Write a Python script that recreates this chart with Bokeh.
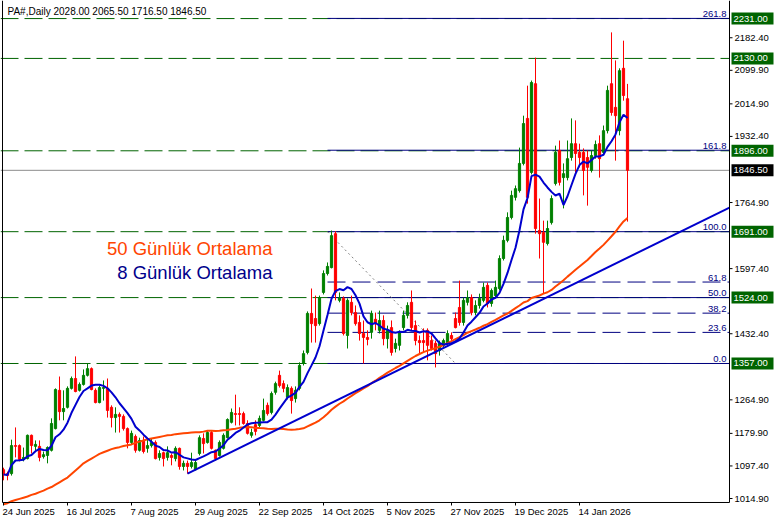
import numpy as np
import pandas as pd
from bokeh.plotting import figure
from bokeh.models import ColumnDataSource
from bokeh.core.properties import value
from bokeh.embed import file_html
from bokeh.resources import INLINE

# ---------------- data ----------------
chart_title = "PA#,Daily  2028.00 2065.50 1716.50 1846.50"

opens = [1088, 1078, 1078, 1149, 1149, 1114, 1116, 1175, 1147, 1147,
         1121, 1124, 1137, 1192, 1289, 1235, 1246, 1294, 1319, 1289,
         1304, 1327, 1344, 1289, 1258, 1294, 1294, 1246, 1220, 1228,
         1223, 1192, 1157, 1172, 1137, 1162, 1142, 1149, 1157, 1119,
         1131, 1119, 1124, 1116, 1142, 1096, 1104, 1096, 1088, 1129,
         1167, 1157, 1182, 1137, 1124, 1142, 1169, 1208, 1230, 1230,
         1230, 1205, 1175, 1202, 1200, 1213, 1251, 1233, 1284, 1327,
         1306, 1271, 1294, 1268, 1294, 1357, 1385, 1484, 1471, 1458,
         1537, 1585, 1600, 1686, 1517, 1522, 1428, 1512, 1486, 1461,
         1433, 1423, 1436, 1469, 1441, 1466, 1420, 1448, 1395, 1403,
         1448, 1479, 1512, 1453, 1415, 1415, 1441, 1415, 1408, 1390,
         1403, 1408, 1428, 1471, 1499, 1461, 1512, 1524, 1486, 1504,
         1517, 1555, 1509, 1529, 1547, 1623, 1669, 1727, 1778, 1795,
         1864, 1978, 1841, 2066, 1694, 1689, 1661, 1714, 1813, 1897,
         1828, 1828, 1879, 1914, 1892, 1892, 1879, 1846, 1884, 1914,
         1892, 1947, 2066, 2006, 1947, 2105, 2028]

highs = [1093, 1083, 1164, 1195, 1152, 1144, 1177, 1177, 1162, 1162,
         1134, 1147, 1218, 1294, 1324, 1289, 1299, 1324, 1375, 1309,
         1342, 1357, 1347, 1294, 1301, 1314, 1319, 1251, 1246, 1233,
         1228, 1195, 1187, 1177, 1169, 1172, 1167, 1167, 1162, 1137,
         1134, 1147, 1129, 1147, 1144, 1111, 1111, 1131, 1111, 1175,
         1180, 1187, 1187, 1139, 1162, 1180, 1218, 1243, 1278, 1246,
         1235, 1213, 1192, 1213, 1225, 1268, 1258, 1286, 1311, 1339,
         1314, 1304, 1299, 1299, 1360, 1390, 1489, 1547, 1529, 1529,
         1593, 1613, 1694, 1692, 1537, 1527, 1522, 1529, 1504, 1479,
         1466, 1441, 1491, 1486, 1491, 1479, 1453, 1466, 1420, 1441,
         1491, 1512, 1542, 1466, 1428, 1446, 1446, 1428, 1415, 1415,
         1420, 1441, 1436, 1486, 1567, 1524, 1542, 1532, 1517, 1534,
         1562, 1562, 1547, 1567, 1631, 1681, 1740, 1795, 1808, 1904,
         1985, 2061, 2074, 2132, 1775, 1719, 1719, 1783, 1909, 1922,
         1864, 1922, 1978, 1973, 1914, 1902, 1897, 1897, 1922, 1935,
         1960, 2061, 2196, 2125, 2105, 2175, 2065.5]

lows = [1061, 1061, 1073, 1119, 1109, 1109, 1114, 1129, 1137, 1109,
        1116, 1104, 1134, 1190, 1213, 1213, 1243, 1291, 1284, 1286,
        1301, 1324, 1289, 1256, 1256, 1263, 1220, 1195, 1182, 1182,
        1187, 1142, 1152, 1131, 1134, 1129, 1131, 1144, 1114, 1111,
        1096, 1111, 1099, 1109, 1088, 1086, 1078, 1091, 1086, 1124,
        1129, 1154, 1139, 1111, 1121, 1139, 1167, 1205, 1200, 1200,
        1202, 1177, 1169, 1175, 1195, 1210, 1225, 1228, 1278, 1296,
        1284, 1266, 1230, 1258, 1289, 1352, 1380, 1410, 1410, 1453,
        1532, 1580, 1598, 1517, 1512, 1428, 1395, 1479, 1453, 1415,
        1357, 1403, 1420, 1441, 1433, 1403, 1395, 1377, 1385, 1390,
        1441, 1471, 1441, 1403, 1382, 1385, 1365, 1390, 1347, 1377,
        1395, 1403, 1415, 1446, 1453, 1453, 1504, 1479, 1479, 1496,
        1512, 1499, 1501, 1524, 1542, 1618, 1664, 1722, 1770, 1790,
        1859, 1762, 1836, 1686, 1623, 1534, 1656, 1709, 1808, 1808,
        1750, 1821, 1871, 1841, 1854, 1783, 1757, 1841, 1876, 1828,
        1887, 1940, 1985, 1871, 1935, 2023, 1716.5]

closes = [1076, 1073, 1149, 1147, 1114, 1119, 1175, 1149, 1152, 1119,
          1126, 1144, 1205, 1291, 1235, 1243, 1294, 1319, 1286, 1304,
          1327, 1344, 1291, 1258, 1296, 1296, 1238, 1220, 1228, 1223,
          1192, 1157, 1180, 1137, 1162, 1134, 1149, 1157, 1116, 1129,
          1116, 1131, 1119, 1142, 1096, 1104, 1096, 1106, 1106, 1169,
          1154, 1182, 1142, 1116, 1157, 1175, 1215, 1233, 1228, 1228,
          1205, 1180, 1182, 1185, 1218, 1238, 1230, 1281, 1306, 1301,
          1294, 1296, 1263, 1289, 1352, 1382, 1484, 1458, 1453, 1524,
          1585, 1603, 1681, 1537, 1524, 1433, 1517, 1486, 1458, 1433,
          1423, 1418, 1484, 1458, 1466, 1420, 1441, 1385, 1408, 1436,
          1479, 1504, 1448, 1415, 1410, 1410, 1403, 1395, 1382, 1408,
          1415, 1433, 1420, 1448, 1461, 1517, 1524, 1486, 1504, 1522,
          1550, 1509, 1542, 1550, 1623, 1669, 1727, 1783, 1800, 1864,
          1965, 1778, 2069, 1699, 1686, 1664, 1699, 1775, 1892, 1816,
          1838, 1876, 1914, 1889, 1879, 1846, 1854, 1884, 1912, 1876,
          1947, 2049, 1993, 1985, 2099, 2036, 1846.5]

# 50-day average on the first bars (needs history before the visible window)
ma50_early = [1000, 1003, 1008, 1011, 1014, 1017, 1020, 1024, 1027, 1031,
              1035, 1040, 1044, 1050, 1056, 1062, 1068, 1077, 1086, 1095,
              1104, 1110, 1116, 1122, 1128, 1132, 1136, 1140, 1143, 1145,
              1148, 1150, 1152, 1156, 1159, 1162, 1165, 1167, 1169, 1171,
              1173, 1175, 1176, 1178, 1179, 1180, 1181, 1182, 1183]

date_tick_bars = [0, 16, 32, 48, 64, 80, 96, 112, 128, 144]
date_tick_labels = ["24 Jun 2025", "16 Jul 2025", "7 Aug 2025", "29 Aug 2025",
                    "22 Sep 2025", "14 Oct 2025", "5 Nov 2025", "27 Nov 2025",
                    "19 Dec 2025", "14 Jan 2026"]
price_ticks = [2182.4, 2099.9, 2014.9, 1932.4, 1764.9, 1597.4, 1432.4,
               1264.9, 1179.9, 1097.4, 1014.9]

level_lines = [2231.0, 2130.0, 1896.0, 1691.0, 1524.0, 1357.0]
last_price = 1846.5

fib_low = 1357.0
fib_high = 1691.0
fib_bars = [81, 113]
fib_ratios = [0.0, 23.6, 38.2, 50.0, 61.8, 100.0, 161.8, 261.8]
fib_texts = ["0.0", "23.6", "38.2", "50.0", "61.8", "100.0", "161.8", "261.8"]

trend_bars = [46, 181.5]
trend_prices = [1078.0, 1752.0]

legend_texts = ["50 Günlük Ortalama", "8 Günlük Ortalama"]

# ---------------- derived ----------------
n = len(closes)
bars = np.arange(n)
o = np.array(opens, float)
h = np.array(highs, float)
l = np.array(lows, float)
c = np.array(closes, float)
ma8 = pd.Series(c).rolling(8, min_periods=1).mean().to_numpy()
ma50 = pd.Series(c).rolling(50).mean().to_numpy()
ma50[:len(ma50_early)] = ma50_early

GREEN = "#008000"
RED = "#FF0000"
colors = np.where(c >= o, GREEN, RED)
src = ColumnDataSource(dict(x=bars, o=o, h=h, l=l, c=c,
                            top=np.maximum(o, c), bottom=np.minimum(o, c),
                            color=colors))

# canvas coordinates (bar index / price); the price panel ends at AX / AY
X0, X1 = -0.75, 193.0
Y0, Y1 = 954.1, 2276.8
AX = 181.5          # right price-axis position (bar units)
AY = 1004.8         # bottom time-axis position (price units)
LX = -0.25          # left border
PX = 2.534          # price units per screen pixel (vertical)
BX = 0.25           # bars per screen pixel (horizontal)
FONT = "Liberation Sans"
SMALL = "9.5px"

p = figure(width=775, height=522, x_range=(X0, X1), y_range=(Y0, Y1),
           x_axis_location=None, y_axis_location=None,
           output_backend="svg", toolbar_location=None,
           min_border=0, outline_line_color=None)
p.xgrid.visible = False
p.ygrid.visible = False
p.background_fill_color = "white"
p.border_fill_color = "white"

# horizontal level lines (green dashed) and current price line
p.segment(x0=[X0] * len(level_lines), y0=level_lines,
          x1=[AX] * len(level_lines), y1=level_lines,
          line_color="#006400", line_width=1, line_dash="18 6")
p.segment(x0=[X0], y0=[last_price], x1=[AX], y1=[last_price],
          line_color="#8C8C8C", line_width=1)

# fibonacci levels
fib_prices = [fib_low + r / 100.0 * (fib_high - fib_low) for r in fib_ratios]
for r, fp in zip(fib_ratios, fib_prices):
    dash = "solid" if r in (0.0, 50.0, 100.0, 161.8, 261.8) else "18 7"
    p.segment(x0=[fib_bars[0]], y0=[fp], x1=[AX], y1=[fp], line_color="#000080",
              line_width=1, line_dash=dash)
p.text(x=[AX - 3 * BX] * len(fib_prices), y=[fp + 1.5 * PX for fp in fib_prices],
       text=fib_texts, text_align="right", text_baseline="bottom",
       text_color="#000080", text_font=value(FONT), text_font_size=value(SMALL))
p.line(fib_bars, [fib_high, fib_low], line_color="#808080", line_dash="2 3",
       line_width=1)

# candles
p.segment(x0="x", y0="h", x1="x", y1="l", line_color="color", line_width=1,
          source=src)
p.vbar(x="x", width=0.55, top="top", bottom="bottom", fill_color="color",
       line_color="color", line_width=1, source=src)

# moving averages and trend line
p.line(bars, ma50, line_color="#FF4500", line_width=2)
p.line(bars, ma8, line_color="#0000CD", line_width=2)
p.line(trend_bars, trend_prices, line_color="#0000CD", line_width=2)

# ---- frame lines ----
p.segment(x0=[LX, AX, LX], y0=[AY, AY, AY], x1=[LX, AX, AX], y1=[Y1, Y1, AY],
          line_color="black", line_width=1)

# ---- right price scale ----
p.segment(x0=[AX] * len(price_ticks), y0=price_ticks,
          x1=[AX + 3 * BX] * len(price_ticks), y1=price_ticks,
          line_color="black", line_width=1)
p.text(x=[AX + 5 * BX] * len(price_ticks), y=price_ticks,
       text=[f"{t:.2f}" for t in price_ticks], text_align="left",
       text_baseline="middle", text_color="black", text_font=value(FONT),
       text_font_size=value(SMALL))

# ---- bottom time scale ----
p.segment(x0=date_tick_bars, y0=[AY] * len(date_tick_bars),
          x1=date_tick_bars, y1=[AY - 3 * PX] * len(date_tick_bars),
          line_color="black", line_width=1)
p.text(x=[b - 1 * BX for b in date_tick_bars], y=[AY - 9.5 * PX] * len(date_tick_bars),
       text=date_tick_labels, text_align="left", text_baseline="middle",
       text_color="black", text_font=value(FONT), text_font_size=value(SMALL))

# ---- price tags on the scale ----
tag_prices = level_lines + [last_price]
tag_colors = ["#006400"] * len(level_lines) + ["#000000"]
p.rect(x=[AX + 23 * BX] * len(tag_prices), y=tag_prices,
       width=42 * BX, height=12 * PX, fill_color=tag_colors, line_color=None)
p.text(x=[AX + 4 * BX] * len(tag_prices), y=tag_prices,
       text=[f"{t:.2f}" for t in tag_prices], text_align="left",
       text_baseline="middle", text_color="white", text_font=value(FONT),
       text_font_size=value(SMALL))

# ---- legend texts ----
p.text(x=[67.25, 67.25], y=[1648.0, 1588.0], text=legend_texts,
       text_align="right", text_baseline="middle",
       text_color=["#FF4500", "#00008B"], text_font=value(FONT),
       text_font_size=value("18.5px"))

# ---- chart title ----
p.text(x=[1.0], y=[2250.0], text=[chart_title], text_align="left",
       text_baseline="middle", text_color="black", text_font=value(FONT),
       text_font_size=value("10px"))

open("out.html", "w").write(file_html(p, INLINE))
